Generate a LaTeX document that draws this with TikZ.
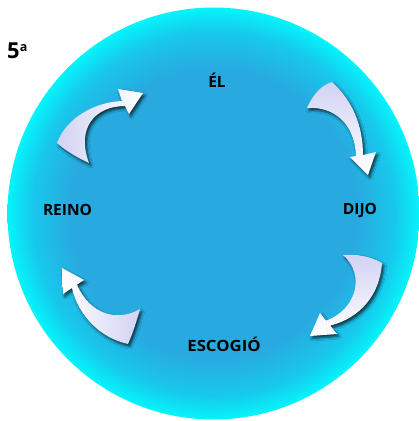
\documentclass[tikz,border=0pt]{standalone}
\usepackage{fontspec}
\setmainfont{Open Sans}
\usetikzlibrary{shadows.blur}
\definecolor{discin}{RGB}{40,170,224}
\definecolor{discmid}{RGB}{24,200,236}
\definecolor{discout}{RGB}{5,243,250}
\definecolor{lav}{RGB}{210,210,244}
\pgfdeclareradialshading{discshade}{\pgfpoint{0bp}{0bp}}{%
  color(0bp)=(discin); color(17.5bp)=(discin); color(22bp)=(discmid); color(24.9bp)=(discout); color(25bp)=(discout); color(50bp)=(discout)}
\tikzset{
  lbl/.style={anchor=base, inner sep=0pt, font=\fontsize{15.5}{15.5}\selectfont\bfseries, text=black},
  arrowshape/.style={draw=none, blur shadow={shadow xshift=2pt, shadow yshift=-2.5pt, shadow blur radius=2.5pt, shadow opacity=70}}
}
\begin{document}
\begin{tikzpicture}[x=1pt,y=-1pt]
\useasboundingbox (0,0) rectangle (419,421);
\fill[white] (0,0) rectangle (419,421);
\shade[shading=discshade] (213.5,213.5) circle[radius=206];
% labels
\node[lbl] (el) at (217,87.7) {ÉL};
\node[lbl] (dijo) at (360,214.3) {DIJO};
\node[lbl, xscale=1.08] (escogio) at (224,351.7) {ESCOGIÓ};
\node[lbl] (reino) at (67.5,215.7) {REINO};
\node[anchor=base west, inner sep=0pt, font=\fontsize{22}{22}\selectfont\bfseries] (num) at (7,58) {5\raisebox{7pt}{\fontsize{12.5}{12.5}\selectfont a}};
% arrow 1 (top-left)
\path[arrowshape, left color=lav, right color=white]
  (57,143) .. controls (66,118) and (95,102) .. (122,101)
  -- (118,89) -- (143,93) -- (129,114) -- (125,106)
  .. controls (95,106) and (76,128) .. (89,163)
  .. controls (78,158) and (66,151) .. (57,143) -- cycle;
% arrow 2 (top-right)
\path[arrowshape, top color=lav, bottom color=white]
  (332,82) .. controls (352,100) and (363,125) .. (363,155)
  -- (376,152) -- (368,175) -- (350,157) -- (356,156)
  .. controls (355,125) and (335,106) .. (307,108)
  .. controls (313,95) and (320,86) .. (332,82) -- cycle;
% arrow 3 (bottom-right)
\path[arrowshape, top color=lav, bottom color=white]
  (343,255) .. controls (356,254) and (370,256) .. (382,263)
  .. controls (380,295) and (360,318) .. (330.2,325.6)
  -- (337,334) -- (310,336) -- (320,313) -- (326.1,320.6)
  .. controls (356,310) and (366,275) .. (343,255) -- cycle;
% arrow 4 (bottom-left)
\path[arrowshape, right color=lav, left color=white]
  (72,288) .. controls (78,315) and (100,338) .. (128,344)
  .. controls (133,333) and (137,320) .. (140,309)
  .. controls (118,322) and (90,315) .. (77,284.6)
  -- (84,280) -- (62,268) -- (63,294) -- (72,288) -- cycle;
\end{tikzpicture}
\end{document}
